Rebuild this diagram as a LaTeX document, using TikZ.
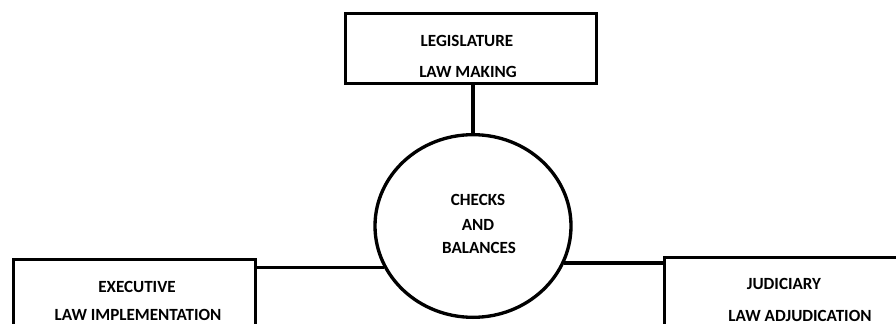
\documentclass[tikz,border=0pt]{standalone}
\usepackage{fontspec}
\setmainfont{Carlito}
\usetikzlibrary{shapes.geometric}
\begin{document}
\begin{tikzpicture}[x=0.75pt,y=-0.75pt,
  line width=2.5pt,
  branch/.style={draw, rectangle, inner sep=0pt, anchor=north west},
  hub/.style={draw, ellipse, inner sep=0pt, minimum width=147pt, minimum height=137pt},
  caption/.style={font=\fontsize{12.8}{15}\selectfont\bfseries, inner sep=0pt, anchor=center},
  link/.style={draw, line width=2.5pt}]
\useasboundingbox (0,0) rectangle (896,324);
\clip (0,0) rectangle (896,324);
\fill[white] (0,0) rectangle (896,324);

% three branches of government
\node[branch, minimum width=188pt, minimum height=52.5pt] (leg) at (344,12) {};
\node[branch, minimum width=181.5pt, minimum height=70pt] (exec) at (12,258) {};
\node[branch, minimum width=200pt, minimum height=70pt] (jud) at (663,256) {};

% central hub
\node[hub] (cb) at (473,226) {};

% labels
\node[caption] (legA) at (467,41) {LEGISLATURE};
\node[caption] (legB) at (468,72) {LAW MAKING};
\node[caption] (cbA) at (478,200) {CHECKS};
\node[caption] (cbB) at (478,225) {AND};
\node[caption] (cbC) at (479,248) {BALANCES};
\node[caption] (exA) at (137,287) {EXECUTIVE};
\node[caption] (exB) at (138,315) {LAW IMPLEMENTATION};
\node[caption] (juA) at (784,284) {JUDICIARY};
\node[caption] (juB) at (800,316) {LAW ADJUDICATION};

% connectors
\draw[link] (cb.north) -- (cb.north |- leg.south);
\draw[link] (cb.205) -- (cb.205 -| exec.east);
\draw[link] (cb.-22.5) -- (cb.-22.5 -| jud.west);
\end{tikzpicture}
\end{document}
